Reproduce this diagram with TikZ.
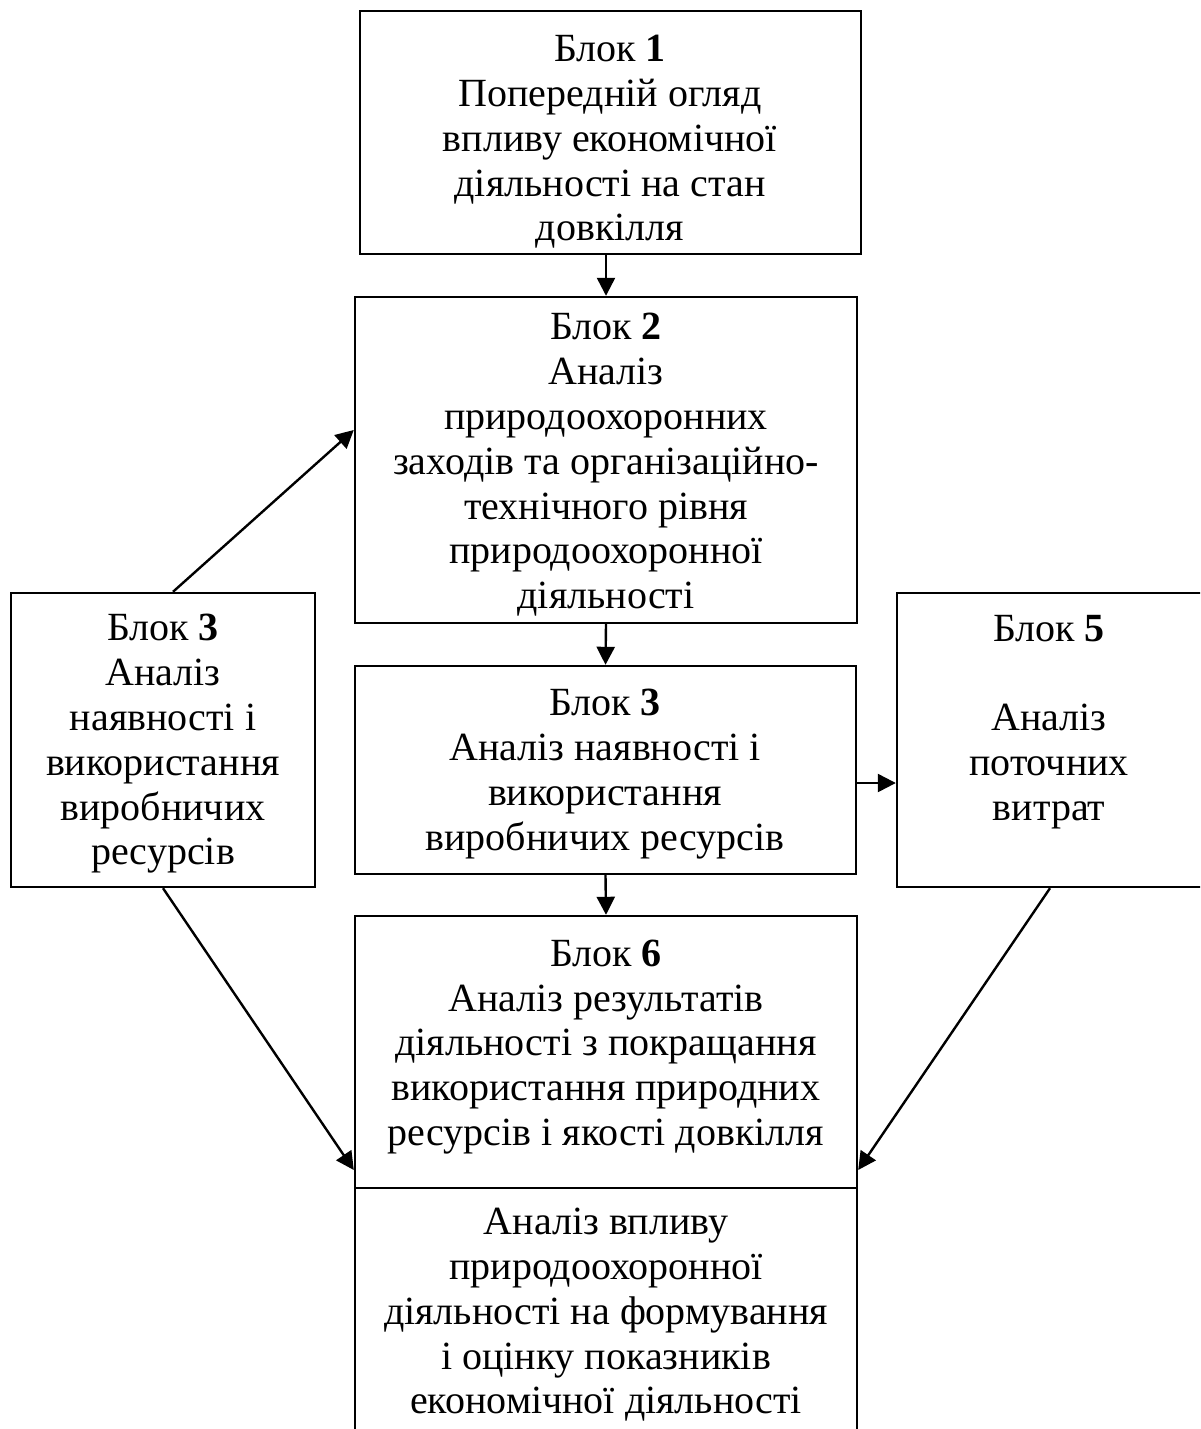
\documentclass[tikz,border=0pt]{standalone}
\usepackage{fontspec}
\setmainfont{Liberation Serif}
\usetikzlibrary{arrows.meta}
\begin{document}
\begin{tikzpicture}[x=0.5pt,y=-0.5pt,
  box/.style={draw=black,line width=1.2pt,inner sep=0pt},
  txt/.style={align=center,inner sep=0pt,font=\fontsize{20}{22.4}\selectfont},
  arr/.style={line width=1.2pt,-{Triangle[length=9pt,width=9pt]}}]
\fill[white] (0,0) rectangle (1200,1429);
\useasboundingbox (0,0) rectangle (1200,1429);
\clip (0,0) rectangle (1200,1429);
\node[box,minimum width=250.5pt,minimum height=121.5pt] (b1) at (610.5,132.5) {};
\node[txt] (t1) at (610,142)
  {Блок \textbf{1}\\Попередній огляд\\впливу економічної\\діяльності на стан\\довкілля};
\node[box,minimum width=251pt,minimum height=163pt] (b2) at (606,460) {};
\node[txt] (t2) at (606,465)
  {Блок \textbf{2}\\Аналіз\\природоохоронних\\заходів та організаційно-\\технічного рівня\\природоохоронної\\діяльності};
\node[box,minimum width=250.5pt,minimum height=104pt] (b3) at (605.5,770) {};
\node[txt] (t3) at (605,774)
  {Блок \textbf{3}\\Аналіз наявності і\\використання\\виробничих ресурсів};
\node[box,minimum width=152pt,minimum height=147pt] (l3) at (163,740) {};
\node[txt] (tl3) at (163,744)
  {Блок \textbf{3}\\Аналіз\\наявності і\\використання\\виробничих\\ресурсів};
\node[box,minimum width=153pt,minimum height=147pt] (b5) at (1050,740) {};
\node[txt] (t5) at (1049,740)
  {Блок \textbf{5}\\\mbox{}\\Аналіз\\поточних\\витрат\\\mbox{}};
\node[box,minimum width=251pt,minimum height=136pt] (b6) at (606,1052) {};
\node[txt] (t6) at (606,1047)
  {Блок \textbf{6}\\Аналіз результатів\\діяльності з покращання\\використання природних\\ресурсів і якості довкілля};
\node[box,minimum width=251pt,minimum height=123pt] (b7) at (606,1311) {};
\node[txt] (t7) at (606,1315)
  {Аналіз впливу\\природоохоронної\\діяльності на формування\\і оцінку показників\\економічної діяльності};
\draw[arr] (b1.south -| b2.north) -- (b2.north);
\draw[arr] (b2.south) -- (b3.north);
\draw[arr] (b3.south) -- (b6.north);
\coordinate (a35) at ([yshift=-6.5pt]b3.east);
\draw[arr] (a35) -- (a35 -| b5.west);
\draw[arr] ([xshift=5pt]l3.north) -- ([yshift=15pt]b2.west);
\draw[arr] (l3.south) -- ([yshift=-59pt]b6.west);
\draw[arr] (b5.south) -- ([yshift=-59pt]b6.east);
\end{tikzpicture}
\end{document}
